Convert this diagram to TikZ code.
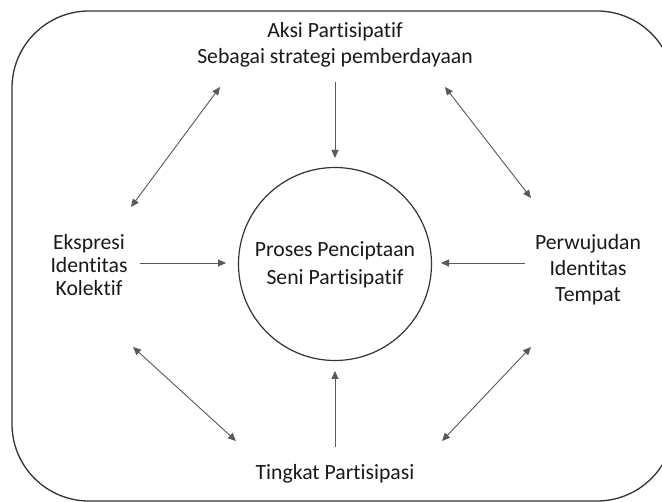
\documentclass[tikz,border=0pt]{standalone}
\usepackage{fontspec}
\setmainfont{Carlito}[Ligatures={NoCommon,NoRequired,NoContextual}]
\usetikzlibrary{arrows.meta}
\begin{document}
\begin{tikzpicture}[x=1pt,y=-1pt,
  lbl/.style={align=center,font=\fontsize{21.7}{24}\selectfont,text=black!90,inner sep=0pt},
  conn/.style={draw=black!60,line width=0.9pt,-{Triangle[length=8pt,width=7pt]},color=black!65},
  biconn/.style={conn,{Triangle[length=8pt,width=7pt]}-{Triangle[length=8pt,width=7pt]}},
  frame/.style={draw=black!80,line width=1.3pt,rounded corners=77pt}]
\useasboundingbox (0,0) rectangle (662,502);
\clip (0,0) rectangle (662,502);
\fill[white] (0,0) rectangle (662,502);
\draw[frame] (12,11) rectangle (674,501);
% nodes
\node[lbl,font=\fontsize{21.7}{26}\selectfont] (top) at (335,45) {Aksi Partisipatif\\Sebagai strategi pemberdayaan};
\node[draw=black!80,line width=1.2pt,circle,minimum size=193pt,inner sep=0pt] (core) at (335,264) {};
\node[lbl,font=\fontsize{21.7}{28}\selectfont] (coretext) at (335,265) {Proses Penciptaan\\Seni Partisipatif};
\node[lbl,font=\fontsize{21.7}{23.3}\selectfont] (left) at (89,265) {Ekspresi\\Identitas\\Kolektif};
\node[lbl,font=\fontsize{21.7}{26}\selectfont] (right) at (588,270) {Perwujudan\\Identitas\\Tempat};
\node[lbl] (bottom) at (335,474) {Tingkat Partisipasi};
% connector endpoints
\coordinate (t1) at (335,82);
\coordinate (t2) at (335,158);
\coordinate (b1) at (335,447);
\coordinate (b2) at (335,371);
\coordinate (l1) at (140,263);
\coordinate (l2) at (226,263);
\coordinate (r1) at (525,263);
\coordinate (r2) at (441,263);
\coordinate (ul1) at (131,207);
\coordinate (ul2) at (220,87);
\coordinate (ur1) at (531,198);
\coordinate (ur2) at (445,87);
\coordinate (ll1) at (133,347);
\coordinate (ll2) at (236,441);
\coordinate (lr1) at (531,347);
\coordinate (lr2) at (442,441);
\draw[conn] (t1) -- (t2);
\draw[conn] (b1) -- (b2);
\draw[conn] (l1) -- (l2);
\draw[conn] (r1) -- (r2);
\draw[biconn] (ul1) -- (ul2);
\draw[biconn] (ur1) -- (ur2);
\draw[biconn] (ll1) -- (ll2);
\draw[biconn] (lr1) -- (lr2);
\end{tikzpicture}
\end{document}
